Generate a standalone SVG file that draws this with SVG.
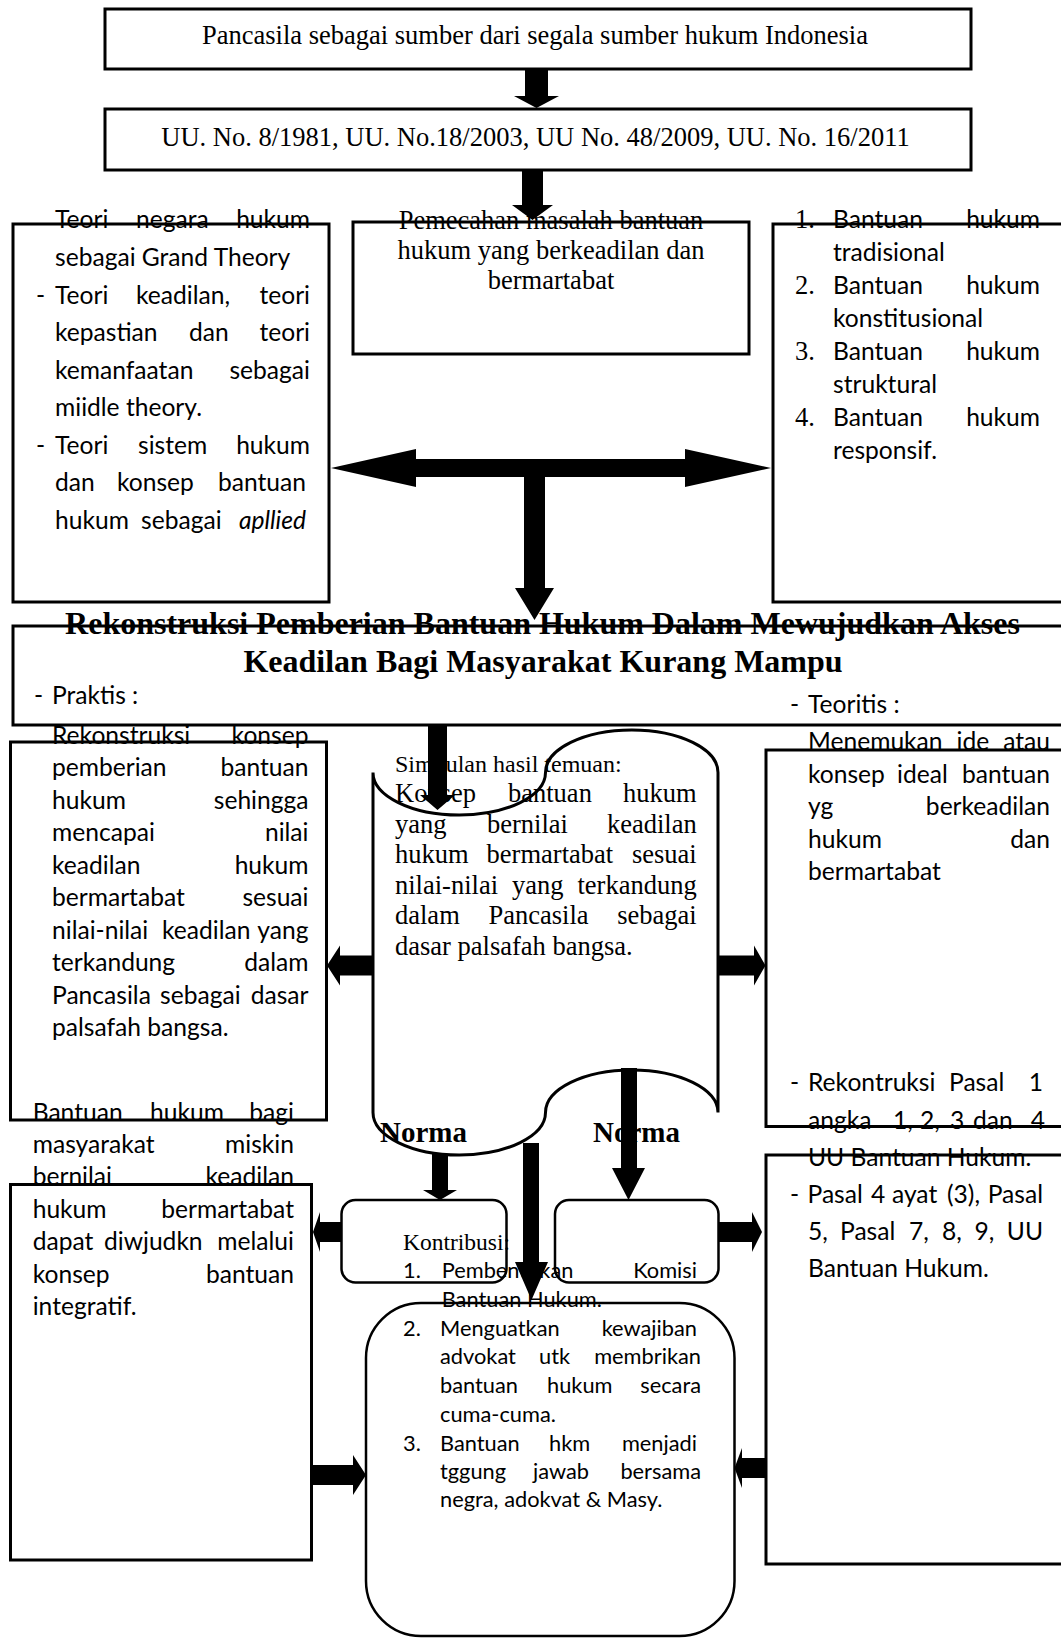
<svg xmlns="http://www.w3.org/2000/svg" width="1061" height="1638" viewBox="0 0 1061 1638">
<style>
.b{fill:none;stroke:#000;stroke-width:3}
.r{fill:none;stroke:#000;stroke-width:2.5}
.a{fill:#000;stroke:none}
.t{font-family:"Liberation Serif","Times New Roman",serif;font-size:26.5px;fill:#000}
.ts{font-family:"Liberation Serif","Times New Roman",serif;font-size:23.5px;fill:#000}
.tb{font-family:"Liberation Serif","Times New Roman",serif;font-weight:bold;font-size:32px;fill:#000}
.nb{font-family:"Liberation Serif","Times New Roman",serif;font-weight:bold;font-size:29px;fill:#000}
.c{font-family:Lato,"Liberation Sans",sans-serif;font-size:24.6px;fill:#000}
.c2{font-family:Lato,"Liberation Sans",sans-serif;font-size:21.8px;fill:#000}
.e{text-anchor:end}
.m{text-anchor:middle}
.i{font-style:italic}
</style>
<rect width="1061" height="1638" fill="#fff"/>

<g id="n-pancasila">
<rect class="b" x="105" y="9" width="866" height="60"/>
<text class="t m" x="535" y="44">Pancasila sebagai sumber dari segala sumber hukum Indonesia</text>
</g>

<g id="n-uu">
<rect class="b" x="105" y="109" width="866" height="61"/>
<text class="t m" x="535.5" y="146">UU. No. 8/1981, UU. No.18/2003, UU No. 48/2009, UU. No. 16/2011</text>
</g>

<g id="n-teori">
<rect class="b" x="13" y="224" width="316" height="378"/>
<text class="c" x="55" y="228">Teori</text><text class="c" x="136" y="228">negara</text><text class="c e" x="310" y="228">hukum</text>
<text class="c" x="55" y="266">sebagai Grand Theory</text>
<text class="c" x="36" y="304">-</text><text class="c" x="55" y="304">Teori</text><text class="c" x="136" y="304">keadilan,</text><text class="c e" x="310" y="304">teori</text>
<text class="c" x="55" y="341">kepastian</text><text class="c" x="189" y="341">dan</text><text class="c e" x="310" y="341">teori</text>
<text class="c" x="55" y="379">kemanfaatan</text><text class="c e" x="310" y="379">sebagai</text>
<text class="c" x="55" y="416">miidle theory.</text>
<text class="c" x="36" y="454">-</text><text class="c" x="55" y="454">Teori</text><text class="c" x="138" y="454">sistem</text><text class="c e" x="310" y="454">hukum</text>
<text class="c" x="55" y="491">dan</text><text class="c" x="117" y="491">konsep</text><text class="c e" x="306" y="491">bantuan</text>
<text class="c" x="55" y="529">hukum</text><text class="c" x="141" y="529">sebagai</text><text class="c e i" x="306" y="529">apllied</text>
</g>

<g id="n-pemecahan">
<rect class="b" x="353" y="222" width="396" height="132"/>
<text class="t m" x="551" y="228.5">Pemecahan masalah bantuan</text>
<text class="t m" x="551" y="259">hukum yang berkeadilan dan</text>
<text class="t m" x="551" y="289">bermartabat</text>
</g>

<g id="n-jenis-bantuan">
<rect class="b" x="773" y="224" width="300" height="378"/>
<text class="t" x="795" y="228">1.</text><text class="c" x="833" y="228">Bantuan</text><text class="c e" x="1040" y="228">hukum</text>
<text class="c" x="833" y="261">tradisional</text>
<text class="t" x="795" y="294">2.</text><text class="c" x="833" y="294">Bantuan</text><text class="c e" x="1040" y="294">hukum</text>
<text class="c" x="833" y="327">konstitusional</text>
<text class="t" x="795" y="360">3.</text><text class="c" x="833" y="360">Bantuan</text><text class="c e" x="1040" y="360">hukum</text>
<text class="c" x="833" y="393">struktural</text>
<text class="t" x="795" y="426">4.</text><text class="c" x="833" y="426">Bantuan</text><text class="c e" x="1040" y="426">hukum</text>
<text class="c" x="833" y="459">responsif.</text>
</g>

<g id="n-rekonstruksi">
<rect class="b" x="13" y="626" width="1060" height="99"/>
<text class="tb m" x="542.5" y="634">Rekonstruksi Pemberian Bantuan Hukum Dalam Mewujudkan Akses</text>
<text class="tb m" x="543" y="672">Keadilan Bagi Masyarakat Kurang Mampu</text>
<text class="c" x="34" y="704">-</text><text class="c" x="52" y="704">Praktis :</text>
<text class="c" x="790" y="713">-</text><text class="c" x="808" y="713">Teoritis :</text>
</g>

<g id="n-praktis">
<rect class="b" x="10.5" y="742" width="316" height="378"/>
<text class="c" x="52" y="743.5">Rekonstruksi</text><text class="c e" x="308.5" y="743.5">konsep</text>
<text class="c" x="52" y="776">pemberian</text><text class="c e" x="308.5" y="776">bantuan</text>
<text class="c" x="52" y="808.5">hukum</text><text class="c e" x="308.5" y="808.5">sehingga</text>
<text class="c" x="52" y="841">mencapai</text><text class="c e" x="308.5" y="841">nilai</text>
<text class="c" x="52" y="873.5">keadilan</text><text class="c e" x="308.5" y="873.5">hukum</text>
<text class="c" x="52" y="906">bermartabat</text><text class="c e" x="308.5" y="906">sesuai</text>
<text class="c" x="52" y="938.5">nilai-nilai</text><text class="c" x="162" y="938.5">keadilan</text><text class="c e" x="308.5" y="938.5">yang</text>
<text class="c" x="52" y="971">terkandung</text><text class="c e" x="308.5" y="971">dalam</text>
<text class="c" x="52" y="1003.5">Pancasila</text><text class="c" x="160" y="1003.5">sebagai</text><text class="c e" x="308.5" y="1003.5">dasar</text>
<text class="c" x="52" y="1036">palsafah bangsa.</text>
</g>

<g id="n-simpulan">
<path class="b" d="M373 772.5 A86.25 42.5 0 0 0 545.5 772.5 A86.25 42.5 0 0 1 718 772.5 L718 1112.5 A86.25 42.5 0 0 0 545.5 1112.5 A86.25 42.5 0 0 1 373 1112.5 Z"/>
<text class="t" x="395" y="772" style="font-size:24px">Simpulan hasil temuan:</text>
<text class="t" x="395" y="802">Konsep</text><text class="t" x="508" y="802">bantuan</text><text class="t e" x="696.7" y="802">hukum</text>
<text class="t" x="395" y="832.5">yang</text><text class="t" x="487" y="832.5">bernilai</text><text class="t e" x="696.7" y="832.5">keadilan</text>
<text class="t" x="395" y="863">hukum</text><text class="t" x="486.6" y="863">bermartabat</text><text class="t e" x="696.7" y="863">sesuai</text>
<text class="t" x="395" y="893.5">nilai-nilai</text><text class="t" x="512" y="893.5">yang</text><text class="t e" x="696.7" y="893.5">terkandung</text>
<text class="t" x="395" y="924">dalam</text><text class="t" x="488.5" y="924">Pancasila</text><text class="t e" x="696.7" y="924">sebagai</text>
<text class="t" x="395" y="954.5">dasar palsafah bangsa.</text>
</g>

<g id="n-teoritis">
<rect class="b" x="766" y="750" width="300" height="376.5"/>
<text class="c" x="808" y="750">Menemukan</text><text class="c" x="956.5" y="750">ide</text><text class="c e" x="1050" y="750">atau</text>
<text class="c" x="808" y="783">konsep</text><text class="c" x="897" y="783">ideal</text><text class="c e" x="1050" y="783">bantuan</text>
<text class="c" x="808" y="815">yg</text><text class="c e" x="1050" y="815">berkeadilan</text>
<text class="c" x="808" y="848">hukum</text><text class="c e" x="1050" y="848">dan</text>
<text class="c" x="808" y="880">bermartabat</text>
<text class="c" x="790" y="1091">-</text><text class="c" x="808" y="1091">Rekontruksi</text><text class="c" x="949" y="1091">Pasal</text><text class="c e" x="1043" y="1091">1</text>
<text class="c" x="808" y="1129">angka</text><text class="c" x="893" y="1129">1,</text><text class="c" x="920" y="1129">2,</text><text class="c" x="950" y="1129">3</text><text class="c" x="973" y="1129">dan</text><text class="c e" x="1045" y="1129">4</text>
<text class="c" x="808" y="1166">UU Bantuan Hukum.</text>
</g>

<g id="n-pasal">
<rect class="b" x="766" y="1155" width="300" height="409"/>
<text class="c" x="790" y="1203">-</text><text class="c" x="807.5" y="1203">Pasal</text><text class="c" x="871" y="1203">4</text><text class="c" x="892" y="1203">ayat</text><text class="c" x="947" y="1203">(3),</text><text class="c e" x="1043" y="1203">Pasal</text>
<text class="c" x="808" y="1240">5,</text><text class="c" x="840" y="1240">Pasal</text><text class="c" x="909" y="1240">7,</text><text class="c" x="942" y="1240">8,</text><text class="c" x="974.5" y="1240">9,</text><text class="c e" x="1043" y="1240">UU</text>
<text class="c" x="808" y="1277">Bantuan Hukum.</text>
</g>

<g id="n-integratif">
<rect class="b" x="10.5" y="1184.5" width="301" height="375.5"/>
<text class="c" x="32.7" y="1121">Bantuan</text><text class="c" x="150" y="1121">hukum</text><text class="c e" x="294" y="1121">bagi</text>
<text class="c" x="32.7" y="1153">masyarakat</text><text class="c e" x="294" y="1153">miskin</text>
<text class="c" x="32.7" y="1185">bernilai</text><text class="c e" x="294" y="1185">keadilan</text>
<text class="c" x="32.7" y="1218">hukum</text><text class="c e" x="294" y="1218">bermartabat</text>
<text class="c" x="32.7" y="1250">dapat</text><text class="c" x="104" y="1250">diwjudkn</text><text class="c e" x="294" y="1250">melalui</text>
<text class="c" x="32.7" y="1283">konsep</text><text class="c e" x="294" y="1283">bantuan</text>
<text class="c" x="32.7" y="1315">integratif.</text>
</g>

<g id="n-norma-kiri">
<rect class="r" x="341.5" y="1200" width="165" height="82.5" rx="14"/>
<text class="nb" x="380" y="1142">Norma</text>
</g>

<g id="n-norma-kanan">
<rect class="r" x="555" y="1200" width="163.5" height="82.5" rx="14"/>
<text class="nb" x="593" y="1142">Norma</text>
</g>

<g id="n-kontribusi">
<rect class="r" x="366" y="1303" width="368.5" height="333" rx="55"/>
<text class="ts" x="403" y="1250">Kontribusi:</text>
<text class="c2" x="403" y="1278">1.</text><text class="c2" x="441.7" y="1278">Pembentukan</text><text class="c2 e" x="697" y="1278">Komisi</text>
<text class="c2" x="441.7" y="1307">Bantuan Hukum.</text>
<text class="c2" x="403" y="1336">2.</text><text class="c2" x="440" y="1336">Menguatkan</text><text class="c2 e" x="697" y="1336">kewajiban</text>
<text class="c2" x="440" y="1364">advokat</text><text class="c2" x="539" y="1364">utk</text><text class="c2 e" x="701" y="1364">membrikan</text>
<text class="c2" x="440" y="1393">bantuan</text><text class="c2" x="547" y="1393">hukum</text><text class="c2 e" x="701" y="1393">secara</text>
<text class="c2" x="440" y="1422">cuma-cuma.</text>
<text class="c2" x="403" y="1451">3.</text><text class="c2" x="440" y="1451">Bantuan</text><text class="c2" x="549" y="1451">hkm</text><text class="c2 e" x="697" y="1451">menjadi</text>
<text class="c2" x="440" y="1479">tggung</text><text class="c2" x="533" y="1479">jawab</text><text class="c2 e" x="701" y="1479">bersama</text>
<text class="c2" x="440" y="1507">negra, adokvat &amp; Masy.</text>
</g>

<g id="connectors">
<polygon class="a" points="525,69 548,69 548,96 559,96 536.5,108 514,96 525,96"/>
<polygon class="a" points="522,170 543,170 543,205 553,205 532.5,220 512,205 522,205"/>
<polygon class="a" points="331,468 416,449 416,459 685,459 685,449 771,468 685,487 685,477 416,477 416,487"/>
<polygon class="a" points="524,477 545,477 545,588 554,588 534.5,620 515,588 524,588"/>
<polygon class="a" points="428,725 447,725 447,795 455,795 437.5,810 420,795 428,795"/>
<polygon class="a" points="373,955.5 340,955.5 340,945.5 327,965.5 340,985.5 340,975.5 373,975.5"/>
<polygon class="a" points="718,955.5 754,955.5 754,945.5 765.5,965.5 754,985.5 754,975.5 718,975.5"/>
<polygon class="a" points="432,1154 448,1154 448,1190 457,1190 440,1200 423,1190 432,1190"/>
<polygon class="a" points="621,1068 637,1068 637,1168 645,1168 628.5,1200 612,1168 621,1168"/>
<polygon class="a" points="523,1143 539,1143 539,1262 548,1262 531.5,1300 515,1262 523,1262"/>
<polygon class="a" points="341.5,1222 320,1222 320,1212 313,1232 320,1252 320,1242 341.5,1242"/>
<polygon class="a" points="718.5,1222 752,1222 752,1212 762,1232 752,1252 752,1242 718.5,1242"/>
<polygon class="a" points="311.5,1465 353,1465 353,1455 366,1475 353,1495 353,1485 311.5,1485"/>
<polygon class="a" points="766,1458 742,1458 742,1448 734.5,1468 742,1488 742,1478 766,1478"/>
</g>
</svg>
